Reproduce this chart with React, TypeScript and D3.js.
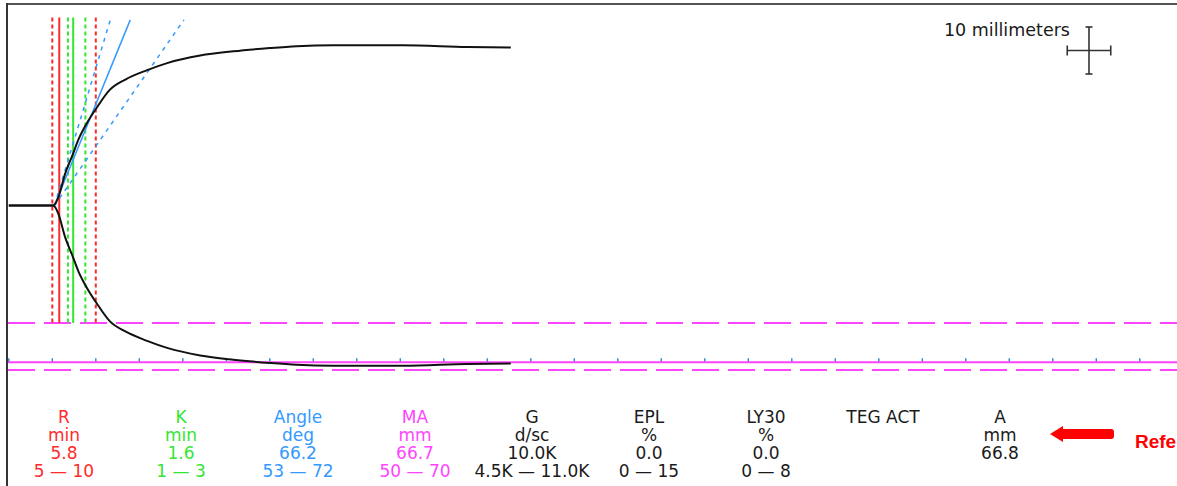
import * as d3 from "d3";
import {useEffect, useRef} from "react";

// TEG trace: time in minutes vs half amplitude in mm
const traceTime = [0, 5.0, 5.3, 5.7, 6.5, 7.3, 8.0, 9.0, 10.1, 11.6, 13.4, 15.9, 18.2, 22.0, 25.8, 30.0, 33.1, 37.3, 45.3, 52.7, 57.7];
const traceAmp = [0, 0, 0.3, 1.8, 6.9, 10.6, 14.0, 17.6, 20.8, 24.6, 26.8, 28.8, 30.3, 31.9, 32.8, 33.5, 33.9, 34.1, 34.1, 33.7, 33.6];

// results and normal ranges
const rValue = 5.8;
const kValue = 1.6;
const angleValue = 66.2;
const maValue = 66.7;
const rRange = [5, 10];
const kRange = [1, 3];
const angleRange = [53, 72];
const maRange = [50, 70];
const angleStart = 5.25;

// table under the tracing
const paramLabels = ["R", "K", "Angle", "MA", "G", "EPL", "LY30", "TEG ACT", "A"];
const paramUnits = ["min", "min", "deg", "mm", "d/sc", "%", "%", "", "mm"];
const paramValues = ["5.8", "1.6", "66.2", "66.7", "10.0K", "0.0", "0.0", "", "66.8"];
const paramRanges = ["5 \u2014 10", "1 \u2014 3", "53 \u2014 72", "50 \u2014 70", "4.5K \u2014 11.0K", "0 \u2014 15", "0 \u2014 8", "", ""];

const RED = "#ff2b2b";
const GREEN = "#33e633";
const BLUE = "#3399ff";
const MAGENTA = "#ff44ff";
const INK = "#1a1a1a";
const paramColors = [RED, GREEN, BLUE, MAGENTA, INK, INK, INK, INK, INK];

const TegChart = () => {
    const ref = useRef(null);

    useEffect(() => {
        buildGraph();
    }, []);

    const buildGraph = () => {
        const width = 1177, height = 486;
        const font = "'DejaVu Sans', Verdana, sans-serif";

        const svg = d3.select(ref.current);
        svg.selectAll("*").remove();
        svg.attr("width", width).attr("height", height);

        // 2 mm per minute horizontally, 4.7 px per mm vertically
        const x = d3.scaleLinear().domain([0, 135]).range([8.8, 8.8 + 135 * 8.7]);
        const y = d3.scaleLinear().domain([-40, 40]).range([393.5, 17.5]);

        // frame
        svg.append("line").attr("x1", 7).attr("x2", width).attr("y1", 4).attr("y2", 4)
            .attr("stroke", "#555").attr("stroke-width", 2);
        svg.append("line").attr("x1", 7).attr("x2", 7).attr("y1", 3).attr("y2", height)
            .attr("stroke", "#333").attr("stroke-width", 2);

        // MA range (dashed) and MA value (solid)
        maRange.forEach(m => {
            svg.append("line")
                .attr("x1", 8).attr("x2", width)
                .attr("y1", y(-m / 2)).attr("y2", y(-m / 2))
                .attr("stroke", MAGENTA).attr("stroke-width", 2)
                .attr("stroke-dasharray", "27,9");
        });

        // time ticks every 5 min
        svg.selectAll("timeticks")
            .data(d3.range(0, 131, 5))
            .join("line")
            .attr("x1", d => x(d)).attr("x2", d => x(d))
            .attr("y1", y(-maValue / 2) - 4).attr("y2", y(-maValue / 2))
            .attr("stroke", "#2a8fd8").attr("stroke-width", 1.5);

        svg.append("line")
            .attr("x1", 8).attr("x2", width)
            .attr("y1", y(-maValue / 2)).attr("y2", y(-maValue / 2))
            .attr("stroke", MAGENTA).attr("stroke-width", 2);

        // R and K markers
        const markers = [
            {t: rRange[0], color: RED, dash: "4,3"},
            {t: rValue, color: RED, dash: null},
            {t: rValue + kRange[0], color: GREEN, dash: "4,3"},
            {t: rValue + kValue, color: GREEN, dash: null},
            {t: rValue + kRange[1], color: GREEN, dash: "4,3"},
            {t: rRange[1], color: RED, dash: "4,3"},
        ];
        svg.selectAll("markers")
            .data(markers)
            .join("line")
            .attr("x1", d => x(d.t)).attr("x2", d => x(d.t))
            .attr("y1", y(40)).attr("y2", y(-maRange[0] / 2))
            .attr("stroke", d => d.color).attr("stroke-width", 2)
            .attr("stroke-dasharray", d => d.dash);

        // angle lines
        const angles = [
            {deg: angleValue, dash: null},
            {deg: angleRange[0], dash: "4,5"},
            {deg: angleRange[1], dash: "4,5"},
        ];
        const aEnd = 39.5;
        svg.selectAll("angles")
            .data(angles)
            .join("line")
            .attr("x1", x(angleStart)).attr("y1", y(0))
            .attr("x2", d => x(angleStart + aEnd / (2 * Math.tan(d.deg * Math.PI / 180))))
            .attr("y2", y(aEnd))
            .attr("stroke", BLUE).attr("stroke-width", 1.5)
            .attr("stroke-dasharray", d => d.dash);

        // trace, upper and lower halves
        const pts = traceTime.map((t, i) => ({t, a: traceAmp[i]}));
        const upper = d3.line().x(d => x(d.t)).y(d => y(d.a)).curve(d3.curveMonotoneX);
        const lower = d3.line().x(d => x(d.t)).y(d => y(-d.a)).curve(d3.curveMonotoneX);
        svg.append("path").attr("d", upper(pts)).attr("fill", "none")
            .attr("stroke", "#111").attr("stroke-width", 2);
        svg.append("path").attr("d", lower(pts)).attr("fill", "none")
            .attr("stroke", "#111").attr("stroke-width", 2);

        // scale bar: 10 mm each way
        const cx = 1089, cy = 50.5;
        const hv = (y(0) - y(10)) / 2, hh = (x(5) - x(0)) / 2;
        const bar = svg.append("g").attr("stroke", "#333").attr("stroke-width", 1.6);
        bar.append("line").attr("x1", cx).attr("x2", cx).attr("y1", cy - hv).attr("y2", cy + hv);
        bar.append("line").attr("x1", cx - hh).attr("x2", cx + hh).attr("y1", cy).attr("y2", cy);
        bar.append("line").attr("x1", cx - 3.5).attr("x2", cx + 3.5).attr("y1", cy - hv).attr("y2", cy - hv);
        bar.append("line").attr("x1", cx - 3.5).attr("x2", cx + 3.5).attr("y1", cy + hv).attr("y2", cy + hv);
        bar.append("line").attr("x1", cx - hh).attr("x2", cx - hh).attr("y1", cy - 5).attr("y2", cy + 5);
        bar.append("line").attr("x1", cx + hh).attr("x2", cx + hh).attr("y1", cy - 5).attr("y2", cy + 5);
        svg.append("text").attr("x", 1070).attr("y", 36).attr("text-anchor", "end")
            .style("font-family", font).style("font-size", "17.5px").attr("fill", INK)
            .text("10 millimeters");

        // results table
        const col = d3.scalePoint().domain(paramLabels).range([64, 1000]);
        const rows = [paramLabels, paramUnits, paramValues, paramRanges];
        const rowY = [423, 441, 459, 477];
        rows.forEach((row, r) => {
            svg.selectAll("row" + r)
                .data(row)
                .join("text")
                .attr("x", (d, i) => col(paramLabels[i]))
                .attr("y", rowY[r])
                .attr("text-anchor", "middle")
                .attr("fill", (d, i) => paramColors[i])
                .style("font-family", font).style("font-size", "17px")
                .text(d => d);
        });

        // reference arrow
        svg.append("path")
            .attr("d", "M1050,434 L1063,426 L1063,429 L1111,429 Q1114,429 1114,432 L1114,436 Q1114,439 1111,439 L1063,439 L1063,442 Z")
            .attr("fill", "#ff0000");
        svg.append("text").attr("x", 1135).attr("y", 448)
            .style("font-family", "'Liberation Sans', Arial, sans-serif").style("font-size", "19px")
            .style("font-weight", "bold").attr("fill", "#ff0000")
            .text("Reference");
    };

    return (<svg ref={ref} style={{position: "absolute", left: 0, top: 0, display: "block"}}/>);
};

export default function App() {
    return <TegChart/>;
}
